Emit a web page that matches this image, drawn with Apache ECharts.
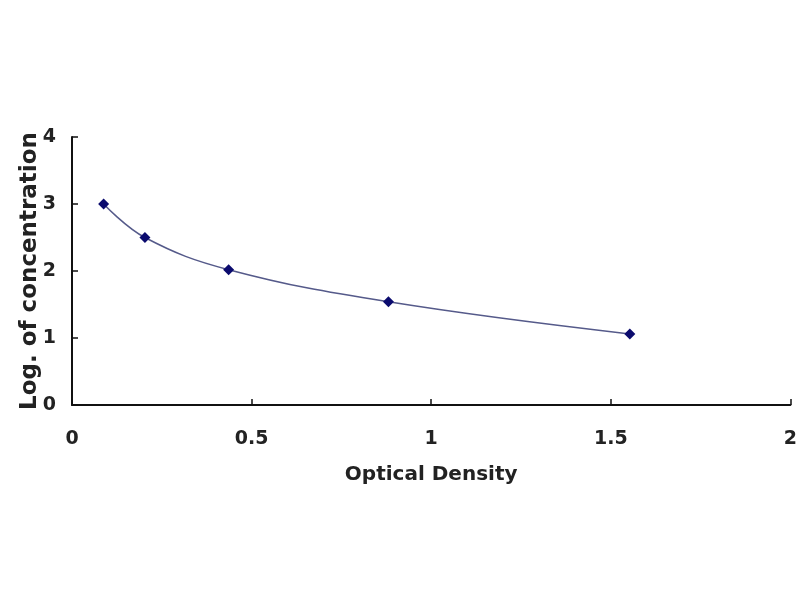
<!DOCTYPE html>
<html>
<head>
<meta charset="utf-8">
<script src="https://cdn.jsdelivr.net/npm/echarts@6/dist/echarts.min.js"></script>
<style>
  html, body { margin: 0; padding: 0; background: #fff; }
  #main { width: 800px; height: 600px; }
</style>
</head>
<body>
<div id="main"></div>
<script>
// standard curve points
var opticalDensity = [0.088, 0.203, 0.436, 0.881, 1.553];
var logConc = [3.0, 2.5, 2.02, 1.54, 1.06];

var xTicks = [0, 0.5, 1, 1.5, 2];
var yTicks = [0, 1, 2, 3, 4];

var pts = opticalDensity.map(function (x, i) { return [x, logConc[i]]; });

var chartDom = document.getElementById('main');
var myChart = echarts.init(chartDom);
var option;

option = {
  backgroundColor: '#fff',
  animation: false,
  textStyle: { fontFamily: 'DejaVu Sans, sans-serif' },
  grid: { left: 72, right: 7, top: 137, bottom: 195 },
  xAxis: {
    type: 'value',
    min: xTicks[0],
    max: xTicks[xTicks.length - 1],
    interval: 0.5,
    name: 'Optical Density',
    nameLocation: 'middle',
    nameGap: 60,
    nameMoveOverlap: false,
    nameTextStyle: { color: '#222', fontSize: 20, fontWeight: 'bold' },
    axisLine: { lineStyle: { color: '#111', width: 2 } },
    axisTick: { inside: true, length: 6, lineStyle: { color: '#111', width: 1.5 } },
    axisLabel: { color: '#222', fontSize: 19, fontWeight: 'bold', margin: 25 },
    splitLine: { show: false }
  },
  yAxis: {
    type: 'value',
    min: yTicks[0],
    max: yTicks[yTicks.length - 1],
    interval: 1,
    name: 'Log. of concentration',
    nameLocation: 'middle',
    nameGap: 30,
    nameMoveOverlap: false,
    nameTextStyle: { color: '#222', fontSize: 23, fontWeight: 'bold' },
    axisLine: { show: true, lineStyle: { color: '#111', width: 2 } },
    axisTick: { show: true, inside: true, length: 6, lineStyle: { color: '#111', width: 1.5 } },
    axisLabel: { color: '#222', fontSize: 19, fontWeight: 'bold', margin: 16 },
    splitLine: { show: false }
  },
  series: [
    {
      type: 'line',
      data: pts,
      smooth: 0.4,
      symbol: 'diamond',
      symbolSize: 11,
      showAllSymbol: true,
      lineStyle: { color: '#555a8a', width: 1.5 },
      itemStyle: { color: '#0b0b6e' }
    }
  ]
};

option && myChart.setOption(option);
</script>
</body>
</html>
